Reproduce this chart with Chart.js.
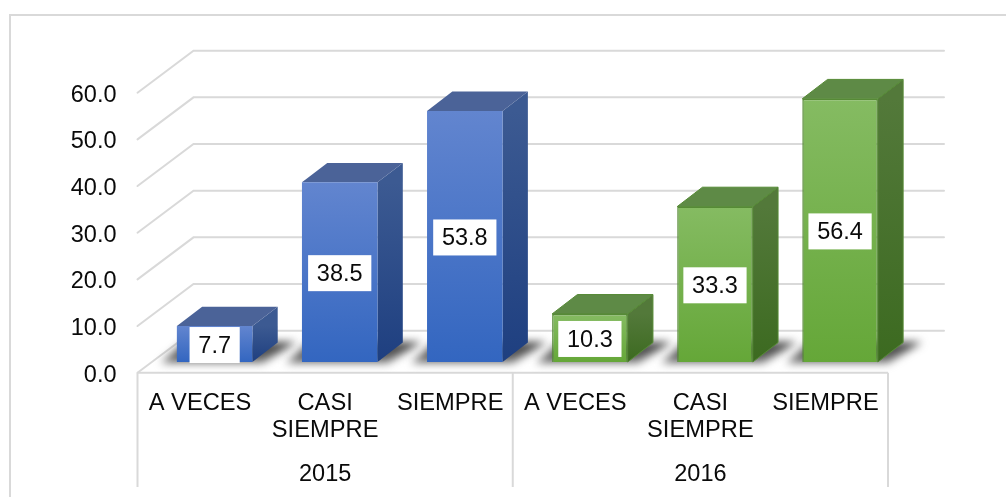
<!DOCTYPE html>
<html>
<head>
<meta charset="utf-8">
<style>html,body{margin:0;padding:0;background:#fff;overflow:hidden}canvas{display:block}</style>
<script src="https://cdn.jsdelivr.net/npm/chart.js@4/dist/chart.umd.js"></script>
</head>
<body>
<div style="width:1006px;height:497px;position:relative"><canvas id="c" width="1006" height="497"></canvas></div>
<script>
const categories = ['A VECES', ['CASI', 'SIEMPRE'], 'SIEMPRE'];
const years = ['2015', '2016'];
const values2015 = [7.7, 38.5, 53.8];
const values2016 = [10.3, 33.3, 56.4];
const yTicks = [0, 10, 20, 30, 40, 50, 60];

const FONT = '"Liberation Sans", Arial, sans-serif';
const INK = '#0a0a0a';
const FLOOR_DX = 56, FLOOR_DY = -42;      // depth of the floor
const BAR_OFF_X = 14.6, BAR_OFF_Y = -10.7; // front face offset into the floor
const BAR_DX = 25.3, BAR_DY = -19.4;       // depth of a bar
const GRID = '#d9d9d9';

const palette = {
  blue:  {front:['#6285cf','#3366c0'], side:['#3c5a92','#1e3f80'], top:'#4b6398', edge:null},
  green: {front:['#85bb62','#65a738'], side:['#53793a','#3c6a20'], top:'#5e8a46', edge:'#568a36'}
};

function frontGradient(key){
  return c => {
    const y = c.chart.scales.y;
    if (!y || c.type !== 'data' || c.raw == null) return palette[key].front[1];
    const y0 = y.getPixelForValue(c.raw), y1 = y.getPixelForValue(0);
    if (!isFinite(y0) || !isFinite(y1)) return palette[key].front[1];
    const g = c.chart.ctx.createLinearGradient(0, y0, 0, y1);
    g.addColorStop(0, palette[key].front[0]);
    g.addColorStop(1, palette[key].front[1]);
    return g;
  };
}

const allLabels = categories.concat(categories);
const yearLabels = ['', years[0], '', '', years[1], ''];
const blanks = [null, null, null];

const scene3d = {
  id: 'scene3d',
  beforeDraw(chart){
    const {ctx} = chart;
    ctx.save();
    ctx.strokeStyle = GRID; ctx.lineWidth = 2;
    ctx.beginPath(); ctx.moveTo(10, 497); ctx.lineTo(10, 15); ctx.lineTo(1006, 15); ctx.stroke();
    ctx.restore();
  },
  beforeDatasetsDraw(chart){
    const {ctx, scales:{x, y}} = chart;
    const L = chart.chartArea.left, R = chart.chartArea.right;
    ctx.save();
    ctx.strokeStyle = GRID; ctx.lineWidth = 2; ctx.lineCap = 'round';
    yTicks.forEach(t => {
      const p = y.getPixelForValue(t);
      ctx.beginPath();
      ctx.moveTo(L, p);
      ctx.lineTo(L + FLOOR_DX, p + FLOOR_DY);
      ctx.lineTo(R + FLOOR_DX, p + FLOOR_DY);
      ctx.stroke();
    });
    ctx.lineCap = 'butt';
    const base = y.getPixelForValue(0);
    ctx.beginPath(); ctx.moveTo(L, base); ctx.lineTo(R, base); ctx.stroke();
    [L, (L + R) / 2, R].forEach(px => {
      ctx.beginPath(); ctx.moveTo(px, base); ctx.lineTo(px, 487); ctx.stroke();
    });
    // floor shadows
    chart.data.datasets.forEach((ds, i) => {
      chart.getDatasetMeta(i).data.forEach((el, j) => {
        if (ds.data[j] == null) return;
        const half = el.width / 2, xl = el.x - half + BAR_OFF_X, xr = el.x + half + BAR_OFF_X;
        const yb = el.base + BAR_OFF_Y;
        ctx.save();
        ctx.filter = 'blur(4px)';
        const g = ctx.createLinearGradient(0, yb - 24, 0, yb + 2);
        g.addColorStop(0, '#303030'); g.addColorStop(1, '#777');
        ctx.fillStyle = g;
        ctx.beginPath();
        ctx.moveTo(xl - 16, yb + 1);
        ctx.lineTo(xl + 8, yb - 20);
        ctx.lineTo(xr + 44, yb - 20);
        ctx.lineTo(xr + 10, yb + 1);
        ctx.closePath(); ctx.fill();
        ctx.restore();
      });
    });
    // top and side faces
    chart.data.datasets.forEach((ds, i) => {
      const pal = palette[ds.colorKey];
      chart.getDatasetMeta(i).data.forEach((el, j) => {
        if (ds.data[j] == null) return;
        const half = el.width / 2, xl = el.x - half + BAR_OFF_X, xr = el.x + half + BAR_OFF_X;
        const yt = el.y + BAR_OFF_Y, yb = el.base + BAR_OFF_Y;
        const sg = ctx.createLinearGradient(0, yt, 0, yb);
        sg.addColorStop(0, pal.side[0]); sg.addColorStop(1, pal.side[1]);
        ctx.fillStyle = sg;
        ctx.beginPath();
        ctx.moveTo(xr, yt); ctx.lineTo(xr + BAR_DX, yt + BAR_DY);
        ctx.lineTo(xr + BAR_DX, yb + BAR_DY); ctx.lineTo(xr, yb);
        ctx.closePath(); ctx.fill();
        if (pal.edge) { ctx.strokeStyle = pal.edge; ctx.lineWidth = 1; ctx.stroke(); }
        ctx.fillStyle = pal.top;
        ctx.beginPath();
        ctx.moveTo(xl, yt); ctx.lineTo(xl + BAR_DX, yt + BAR_DY);
        ctx.lineTo(xr + BAR_DX, yt + BAR_DY); ctx.lineTo(xr, yt);
        ctx.closePath(); ctx.fill();
        if (pal.edge) { ctx.strokeStyle = pal.edge; ctx.lineWidth = 1; ctx.stroke(); }
      });
    });
    ctx.restore();
  },
  beforeDatasetDraw(chart){
    chart.ctx.save();
    chart.ctx.translate(BAR_OFF_X, BAR_OFF_Y);
  },
  afterDatasetDraw(chart){
    chart.ctx.restore();
  },
  afterDatasetsDraw(chart){
    const {ctx} = chart;
    ctx.save();
    ctx.font = '23.5px ' + FONT;
    ctx.textAlign = 'center'; ctx.textBaseline = 'middle';
    chart.data.datasets.forEach((ds, i) => {
      chart.getDatasetMeta(i).data.forEach((el, j) => {
        if (ds.data[j] == null) return;
        const text = ds.data[j].toFixed(1);
        const cx = el.x + BAR_OFF_X, cy = (el.y + el.base) / 2 + BAR_OFF_Y + 1;
        const w = ctx.measureText(text).width + 17.5, h = 36;
        ctx.fillStyle = '#fff';
        ctx.fillRect(cx - w / 2, cy - h / 2, w, h);
        ctx.fillStyle = INK;
        ctx.fillText(text, cx, cy + 1.5);
      });
    });
    ctx.restore();
  }
};

new Chart(document.getElementById('c'), {
  type: 'bar',
  plugins: [scene3d],
  data: {
    labels: allLabels,
    datasets: [
      {label: years[0], colorKey: 'blue', data: values2015.concat(blanks), backgroundColor: frontGradient('blue'), borderWidth: 0},
      {label: years[1], colorKey: 'green', data: blanks.concat(values2016), backgroundColor: frontGradient('green'), borderColor: palette.green.edge, borderWidth: 1.5}
    ]
  },
  options: {
    responsive: false,
    animation: false,
    devicePixelRatio: 1,
    events: [],
    layout: {padding: {left: 0, right: 118, top: 92.7, bottom: 0}},
    plugins: {legend: {display: false}, title: {display: false}, tooltip: {enabled: false}},
    datasets: {bar: {grouped: false, barPercentage: 0.604, categoryPercentage: 1}},
    scales: {
      y: {
        min: 0, max: 60,
        afterBuildTicks: s => { s.ticks = yTicks.map(v => ({value: v})); },
        afterFit: s => { s.width = 137.5; },
        grid: {display: false}, border: {display: false},
        ticks: {padding: 13, labelOffset: 2.5, color: INK, font: {family: FONT, size: 23.5}, callback: v => v.toFixed(1)}
      },
      x: {
        position: 'bottom',
        afterFit: s => { s.height = 72; },
        grid: {display: false}, border: {display: false},
        ticks: {padding: 10, maxRotation: 0, autoSkip: false, color: INK, font: {family: FONT, size: 23.7, lineHeight: 1.11}}
      },
      years: {
        type: 'category',
        position: 'bottom',
        labels: yearLabels,
        offset: true,
        afterFit: s => { s.height = 52.3; },
        grid: {display: false}, border: {display: false},
        ticks: {padding: 8, maxRotation: 0, autoSkip: false, color: INK, font: {family: FONT, size: 23.5}}
      }
    }
  }
});
</script>
</body>
</html>
